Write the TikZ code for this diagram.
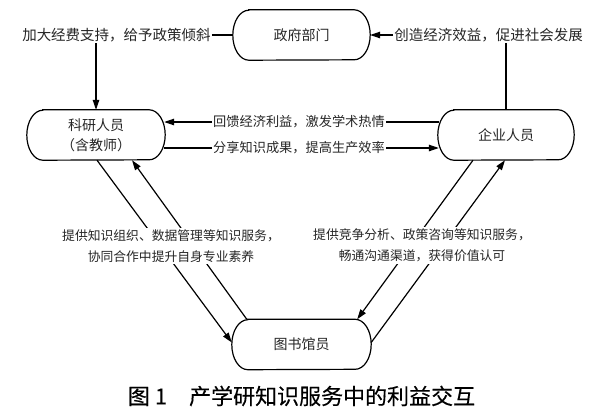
\documentclass[tikz,border=0pt]{standalone}
\usepackage{fontspec}
\newfontfamily\cjk{Noto Sans CJK SC}
\newfontfamily\capfont[FakeBold=0.3]{Noto Sans CJK SC}
\usetikzlibrary{arrows.meta,calc}
\begin{document}
\begin{tikzpicture}[x=1pt,y=-1pt,
  box/.style={minimum width=137pt, minimum height=50pt, inner sep=0pt, align=center,
    font=\cjk\fontsize{14}{20}\selectfont, text=black!85},
  lab/.style={inner sep=1pt, font=\cjk\fontsize{14.5}{17}\selectfont, text=black!85},
  midlab/.style={inner sep=1pt, font=\cjk\fontsize{13.2}{16}\selectfont, text=black!85},
  botlab/.style={fill=white, inner sep=2pt, align=center,
    font=\cjk\fontsize{12.8}{21}\selectfont, text=black!85},
  ln/.style={line width=1.2pt},
  arr/.style={ln, -{Triangle[length=10pt,width=6.5pt]}},
]
\useasboundingbox (0,0) rectangle (600,413);
\fill[white] (0,0) rectangle (600,413);

% boxes
\node[box] (gov) at (301.5,35) {政府部门};
\node[box, minimum width=138pt] (res) at (96,135) {科研人员\\（含教师）};
\node[box, minimum width=136pt] (ent) at (506,135) {企业人员};
\node[box, minimum width=139pt] (lib) at (301.5,344.5) {图书馆员};
\foreach \n in {gov,res,ent,lib}{
  \draw[ln] ($(\n.north west)+(16,0)$) -- ($(\n.north east)+(-16,0)$)
    arc[start angle=90, end angle=-90, x radius=16pt, y radius=25pt]
    -- ($(\n.south west)+(16,0)$)
    arc[start angle=270, end angle=90, x radius=16pt, y radius=25pt] -- cycle;
}

% top labels
\node[lab] (tl) at (116.5,35) {加大经费支持，给予政策倾斜};
\node[lab] (tr) at (488.5,35) {创造经济效益，促进社会发展};
\draw[ln] (tl.east) -- (gov.west);
\draw[arr] (res.north |- tl.south) -- (res.north);
\draw[arr] (tr.west) -- (gov.east);
\draw[ln] (ent.north) -- (ent.north |- tr.south);

% middle labels
\node[midlab] (m1) at (299,122) {回馈经济利益，激发学术热情};
\node[midlab] (m2) at (299,148) {分享知识成果，提高生产效率};
\draw[ln] ($(ent.west |- m1)+(1,0)$) -- (m1.east);
\draw[arr] (m1.west) -- ($(res.east |- m1)+(-1,0)$);
\draw[ln] ($(res.east |- m2)+(-1,0)$) -- (m2.west);
\draw[arr] (m2.east) -- ($(ent.west |- m2)+(1,0)$);

% diagonals
\draw[arr] ($(res.south)+(1,0)$) -- ($(lib.west)+(0,-2)$);
\draw[arr] ($(lib.north west)+(15,0)$) -- ($(res.south)+(36,0)$);
\draw[arr] ($(ent.south)+(-33,0)$) -- ($(lib.north east)+(-14,0)$);
\draw[arr] ($(lib.east)+(0,-2)$) -- ($(ent.south)+(-1,0)$);

% bottom labels
\node[botlab] (bl) at (171,246) {提供知识组织、数据管理等知识服务，\\协同合作中提升自身专业素养};
\node[botlab] (br) at (422,245.5) {提供竞争分析、政策咨询等知识服务，\\畅通沟通渠道，获得价值认可};

% caption
\node[inner sep=0pt, font=\capfont\fontsize{22}{24}\selectfont, text=black] (cap) at (301.5,396)
  {图\hspace{5pt}1\hspace{22pt}产学研知识服务中的利益交互};
\end{tikzpicture}
\end{document}
